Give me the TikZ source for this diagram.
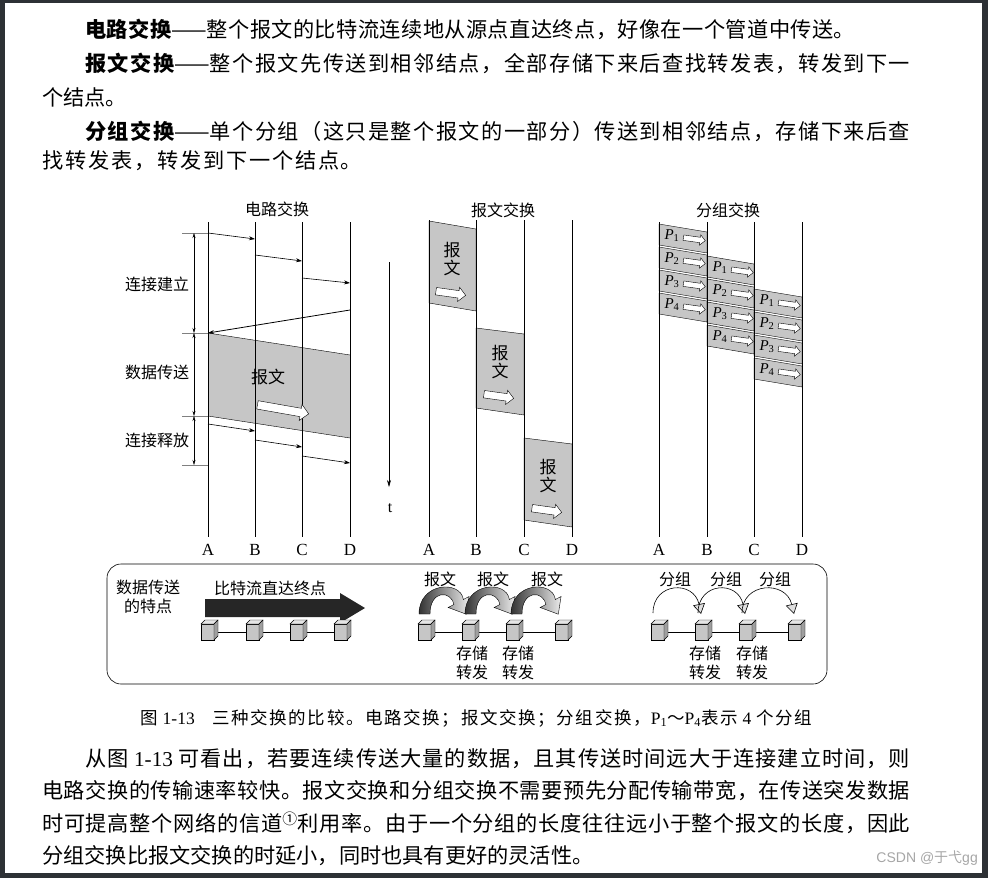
\documentclass[tikz,border=0pt]{standalone}
\usepackage{fontspec}
\setmainfont{Liberation Serif}
\newfontfamily\cjk{Noto Sans CJK SC}
\newfontfamily\wmfont{Liberation Sans}
\usepackage{tikz}
\usetikzlibrary{arrows.meta,shapes.arrows,positioning}

% stretchable glue between Chinese characters, so that \makebox[..][s] can justify a line
\newcount\cjkc \cjkc="4E00
\loop \XeTeXcharclass\cjkc=1 \advance\cjkc by 1 \ifnum\cjkc<"A000 \repeat
\XeTeXcharclass`，=3 \XeTeXcharclass`。=3 \XeTeXcharclass`；=3
\XeTeXcharclass`（=3 \XeTeXcharclass`）=3 \XeTeXcharclass`～=3
\XeTeXinterchartokenstate=1
\XeTeXinterchartoks 1 1 = {\hskip 0pt plus 3pt\relax}
\XeTeXinterchartoks 1 3 = {\hskip 0pt plus 3pt\relax}
\XeTeXinterchartoks 3 1 = {\hskip 0pt plus 3pt\relax}
\XeTeXinterchartoks 3 3 = {\hskip 0pt plus 3pt\relax}

\definecolor{framegray}{HTML}{2D3135}
\definecolor{bandgray}{HTML}{C6C6C6}

\newcommand{\jline}[2]{\makebox[#1pt][s]{#2}}

\tikzset{
  netcube/.pic={
    \filldraw[fill=gray!45] (-8,-7) rectangle (5,9);
    \filldraw[fill=gray!20] (-8,-7) -- (-4,-11) -- (9,-11) -- (5,-7) -- cycle;
    \filldraw[fill=gray!75] (5,-7) -- (9,-11) -- (9,5) -- (5,9) -- cycle;
  },
  msgarc/.pic={
    \shadedraw[left color=black!80, right color=gray!15, draw=black, thin]
      (0,0) .. controls (0,-32) and (38,-34) .. (40.3,-14.5) -- (45.5,-17.5)
      -- (43,0.2) -- (26.5,-6.5) -- (31.7,-9.5)
      .. controls (29,-24) and (10,-24) .. (10,0) -- cycle;
  }
}

\begin{document}
\begin{tikzpicture}[x=1pt, y=-1pt,
    body/.style={anchor=west, inner sep=0pt, font=\cjk\fontsize{21.2}{26}\selectfont},
    lbl/.style={inner sep=0pt, font=\cjk\fontsize{16}{19}\selectfont, align=center},
    abcd/.style={inner sep=0pt, font=\fontsize{17}{17}\selectfont},
    sig/.style={-{Stealth[length=6pt,width=4pt]}, semithick},
    dim/.style={{Stealth[length=5pt,width=3pt]}-{Stealth[length=5pt,width=3pt]}, thin},
    tick/.style={gray, thin},
    band/.style={draw, fill=bandgray},
    hollow/.style={single arrow, draw, fill=white, inner xsep=0pt, inner ysep=3.5pt,
      minimum height=30pt, single arrow head extend=3.5pt},
    small/.style={inner ysep=2.5pt, minimum height=22pt, single arrow head extend=2.5pt},
    pk/.style={inner sep=0pt, font=\fontsize{15}{15}\selectfont},
    parc/.style={-{Triangle[length=10pt,width=12pt,fill=gray!25]}, semithick}]

  \fill[framegray] (0,0) rectangle (988,878);
  \fill[white] (5,3) rectangle (982,873);

  % text above
  \node[body] (l1) at (85,29) {\jline{770}{{\bfseries 电路交换}——整个报文的比特流连续地从源点直达终点，好像在一个管道中传送。}};
  \node[body] (l2) at (85,63) {\jline{825}{{\bfseries 报文交换}——整个报文先传送到相邻结点，全部存储下来后查找转发表，转发到下一}};
  \node[body] (l3) at (42,97) {个结点。};
  \node[body] (l4) at (85,131) {\jline{825}{{\bfseries 分组交换}——单个分组（这只是整个报文的一部分）传送到相邻结点，存储下来后查}};
  \node[body] (l5) at (42,161) {\jline{320}{找转发表，转发到下一个结点。}};

  % circuit switching
  \node[lbl] (ctitle) at (277,209) {电路交换};
  \fill[bandgray] (208,333) -- (350,355) -- (350,438) -- (208,416) -- cycle;
  \draw (208,333) -- (350,355) (208,416) -- (350,438);
  \foreach \n/\x in {A/208,B/255,C/302,D/350} {
    \draw (\x,222) -- (\x,537);
    \node[abcd] (c\n) at (\x,550) {\n};
  }
  \draw[sig] (208,233) -- (255,239);
  \draw[sig] (255,255) -- (302,261);
  \draw[sig] (302,278) -- (350,283);
  \draw[sig, thick] (350,310) -- (208,333);
  \draw[sig] (208,424) -- (255,431);
  \draw[sig] (255,440) -- (302,447);
  \draw[sig] (302,456) -- (350,463);
  \node[lbl, font=\cjk\fontsize{17}{17}\selectfont] (cmsg) at (268,377) {报文};
  \node[hollow, minimum height=52pt, inner ysep=4pt, single arrow head extend=4pt, rotate=-10] (carr) at (281,409) {};
  \foreach \y in {233,333,416,465} \draw[tick] (182,\y) -- (208,\y);
  \draw[dim] (194,233) -- (194,333);
  \draw[dim] (194,333) -- (194,416);
  \draw[dim] (194,416) -- (194,465);
  \node[lbl] (setup) at (157,284) {连接建立};
  \node[lbl] (xfer) at (157,372) {数据传送};
  \node[lbl] (rel) at (157,440) {连接释放};

  % time axis
  \draw[-{Stealth[length=7pt,width=4pt]}, semithick] (389,262) -- (389,487);
  \node[abcd, font=\fontsize{16}{16}\selectfont] (t) at (390,508) {t};

  % message switching
  \node[lbl] (mtitle) at (503,210) {报文交换};
  \draw[band] (429,221) -- (476,229) -- (476,311) -- (429,303) -- cycle;
  \draw[band] (476,328) -- (524,334) -- (524,415) -- (476,408) -- cycle;
  \draw[band] (524,438) -- (572,444) -- (572,527) -- (524,520) -- cycle;
  \foreach \n/\x in {A/429,B/476,C/524,D/572} {
    \draw (\x,220) -- (\x,537);
    \node[abcd] (m\n) at (\x,550) {\n};
  }
  \foreach \x/\y [count=\i] in {452/250, 500/353, 548/467} {
    \node[lbl, font=\cjk\fontsize{17}{18}\selectfont] (msg\i) at (\x,\y+9) {报\\文};
    \node[hollow, rotate=-8] (marr\i) at (\x-3,\y+43) {};
  }

  % packet switching
  \node[lbl] (ptitle) at (728,210) {分组交换};
  \foreach \xa/\xb/\yt in {659/707/223, 707/754/255, 754/802/288} {
    \foreach \j in {1,...,4} {
      \pgfmathsetmacro{\ya}{\yt+(\j-1)*23+1}
      \draw[band] (\xa,\ya) -- (\xb,\ya+8) -- (\xb,\ya+29) -- (\xa,\ya+21) -- cycle;
      \node[pk] (p\xa-\j) at (\xa+13,\ya+12) {\textit{P}\textsubscript{\j}};
      \node[hollow, small, rotate=-8] (pa\xa-\j) at (\xa+34,\ya+15) {};
    }
  }
  \foreach \n/\x in {A/659,B/707,C/754,D/802} {
    \draw (\x,222) -- (\x,537);
    \node[abcd] (p\n) at (\x,550) {\n};
  }

  % characteristics box
  \draw[rounded corners=14pt, semithick] (107,564) rectangle (827,684);
  \node[lbl] (feat) at (148,597) {数据传送\\的特点};
  \node[lbl] (stream) at (270,588) {比特流直达终点};
  \fill[black!85] (205,599) -- (340,599) -- (340,593) -- (365,608) -- (340,623) -- (340,617) -- (205,617) -- cycle;
  \draw (209,632) -- (342,632);
  \foreach \x [count=\i] in {209,254,298,342} \pic (cc\i) at (\x,631) {netcube};

  \foreach \x [count=\i] in {440,493,547} \node[lbl] (mt\i) at (\x,579) {报文};
  \foreach \x [count=\i] in {419,465,511} \pic[xscale=1.1] (ma\i) at (\x,614) {msgarc};
  \draw (426,632) -- (563,632);
  \foreach \x [count=\i] in {426,470,514,563} \pic (mc\i) at (\x,631) {netcube};
  \node[lbl] (msf1) at (472,663) {存储\\转发};
  \node[lbl] (msf2) at (518,663) {存储\\转发};

  \foreach \x [count=\i] in {675,726,775} \node[lbl] (pt\i) at (\x,579) {分组};
  \draw[parc] (653,613) .. controls (653,582) and (694,580) .. (701,614);
  \draw[parc] (698,613) .. controls (698,582) and (738,580) .. (745,614);
  \draw[parc] (742,613) .. controls (742,582) and (786,580) .. (794,614);
  \draw (659,632) -- (796,632);
  \foreach \x [count=\i] in {659,703,747,796} \pic (pc\i) at (\x,631) {netcube};
  \node[lbl] (psf1) at (705,663) {存储\\转发};
  \node[lbl] (psf2) at (752,663) {存储\\转发};

  % caption and text below
  \node[body, font=\cjk\fontsize{17.5}{17.5}\selectfont] (cap) at (140,718) {\jline{672}{图 \textrm{1-13}\quad 三种交换的比较。电路交换；报文交换；分组交换，\textrm{P\textsubscript{1}}～\textrm{P\textsubscript{4}}表示 \textrm{4} 个分组}};
  \node[body] (b1) at (85,759) {\jline{825}{从图 \textrm{1-13} 可看出，若要连续传送大量的数据，且其传送时间远大于连接建立时间，则}};
  \node[body] (b2) at (42,791) {\jline{868}{电路交换的传输速率较快。报文交换和分组交换不需要预先分配传输带宽，在传送突发数据}};
  \node[body] (b3) at (42,823) {\jline{868}{时可提高整个网络的信道\textsuperscript{①}利用率。由于一个分组的长度往往远小于整个报文的长度，因此}};
  \node[body] (b4) at (42,856) {分组交换比报文交换的时延小，同时也具有更好的灵活性。};
  \node[anchor=east, inner sep=0pt, text=gray!70, font=\wmfont\fontsize{14}{14}\selectfont] (wm) at (978,858) {CSDN @{\cjk 于弋}gg};
\end{tikzpicture}
\end{document}
